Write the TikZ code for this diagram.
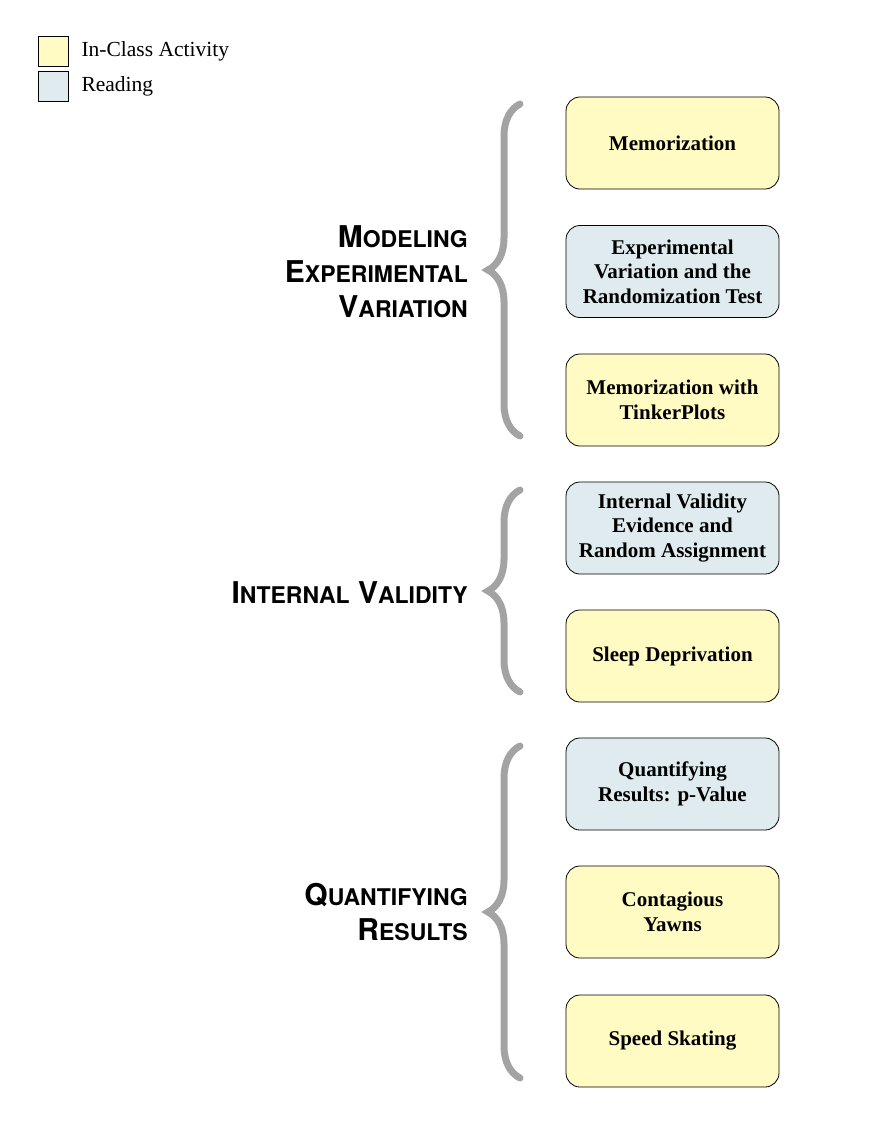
\documentclass[tikz,border=0pt]{standalone}
\usepackage{fontspec}
\setmainfont{Liberation Serif}
\newfontfamily\headfont{TeX Gyre Heros}
\usetikzlibrary{decorations.pathreplacing}
\definecolor{actyellow}{HTML}{FFFBC2}
\definecolor{readblue}{HTML}{DFEBEF}
\definecolor{bracegray}{HTML}{A3A3A3}
% fake small caps for the unit titles
\newcommand{\capword}[2]{{\fontsize{30}{35}\selectfont #1}{\fontsize{23}{35}\selectfont #2}}
\tikzset{
  unitbox/.style={draw, line width=0.8pt, rounded corners=14pt, minimum width=213pt,
    minimum height=92pt, align=center, font=\fontsize{21}{24.5}\selectfont\bfseries},
  activity/.style={unitbox, fill=actyellow},
  reading/.style={unitbox, fill=readblue},
  legendsq/.style={draw, line width=0.8pt, minimum size=30pt, inner sep=0pt},
  unittitle/.style={anchor=east, align=right, inner sep=0pt,
    font=\headfont\bfseries\fontsize{30}{35}\selectfont},
  unitbrace/.style={draw=bracegray, line width=7pt, line cap=round, decorate,
    decoration={brace, amplitude=32pt}}
}
\begin{document}
\begin{tikzpicture}[x=1pt, y=-1pt, every node/.style={font=\fontsize{21.5}{25}\selectfont}]
  \useasboundingbox (0,0) rectangle (884,1144);
  % legend
  \node[legendsq, fill=actyellow] (legact) at (53,51) {};
  \node[legendsq, fill=readblue] (legread) at (53,86) {};
  \node[anchor=west] (legacttext) at (78,51) {In-Class Activity};
  \node[anchor=west] (legreadtext) at (78,86) {Reading};

  % unit 1
  \node[activity] (memo) at (672.5,143) {Memorization};
  \node[reading] (expvar) at (672.5,271.5) {Experimental\\Variation and the\\Randomization Test};
  \node[activity] (tinker) at (672.5,400) {Memorization with\\TinkerPlots};
  \draw[unitbrace] (520,436) -- (520,104);
  \node[unittitle] (modeling) at (468,272) {\capword{M}{ODELING}\\\capword{E}{XPERIMENTAL}\\\capword{V}{ARIATION}};

  % unit 2
  \node[reading] (intval) at (672.5,528) {Internal Validity\\Evidence and\\Random Assignment};
  \node[activity] (sleep) at (672.5,656) {Sleep Deprivation};
  \draw[unitbrace] (520,692) -- (520,490);
  \node[unittitle] (internal) at (468,593) {\capword{I}{NTERNAL}\ \capword{V}{ALIDITY}};

  % unit 3
  \node[reading] (pvalue) at (672.5,784) {Quantifying\\Results: p-Value};
  \node[activity] (yawns) at (672.5,912) {Contagious\\Yawns};
  \node[activity] (skating) at (672.5,1041) {Speed Skating};
  \draw[unitbrace] (520,1078) -- (520,746);
  \node[unittitle] (quant) at (468,912) {\capword{Q}{UANTIFYING}\\\capword{R}{ESULTS}};
\end{tikzpicture}
\end{document}
